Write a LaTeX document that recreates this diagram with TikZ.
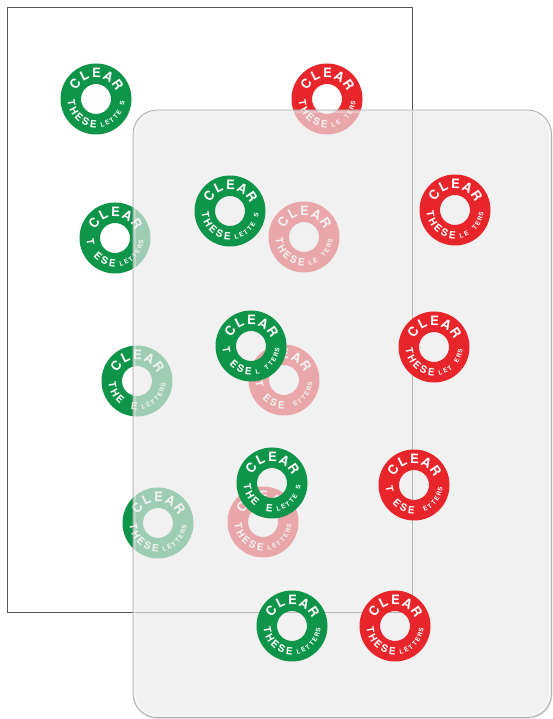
\documentclass[tikz,border=0pt]{standalone}
\usepackage{fontspec}
\setmainfont{TeX Gyre Heros}
\definecolor{dgreen}{HTML}{0F9549}
\definecolor{dred}{HTML}{E8252B}
\definecolor{papline}{HTML}{555555}
\definecolor{sheetfill}{HTML}{EBEBEB}
\definecolor{sheetline}{HTML}{B0B0B0}
\tikzset{
  topl/.style={text=white, inner sep=0pt, font=\fontsize{13}{13}\selectfont\bfseries},
  bigl/.style={text=white, inner sep=0pt, font=\fontsize{10}{10}\selectfont\bfseries},
  smalll/.style={text=white, inner sep=0pt, font=\fontsize{6.3}{6.3}\selectfont\bfseries},
}
% #1 name, #2 x, #3 y, #4 colour, #5 big bottom letters, #6 small bottom letters
\newcommand{\cdisc}[6]{%
  \begin{scope}[shift={(#2,#3)}]
    \fill[#4, even odd rule] (0,0) circle (35.5) (0,0) circle (15);
    \foreach \l [count=\i] in {C,L,E,A,R}
      \node[topl, rotate={144-27.5*(\i-1)-90}] (#1c\i) at ({144-27.5*(\i-1)}:26) {\l};
    \foreach \l [count=\i] in {#5}
      \node[bigl, rotate={190+18.5*(\i-1)+90}] (#1b\i) at ({190+18.5*(\i-1)}:25) {\l};
    \foreach \l [count=\i] in {#6}
      \node[smalll, rotate={284+11.3*(\i-1)+90}] (#1s\i) at ({284+11.3*(\i-1)}:26.5) {\l};
  \end{scope}}
\begin{document}
\begin{tikzpicture}[x=1pt,y=1pt]
  \useasboundingbox (0,0) rectangle (553,719);
  \fill[white] (0,0) rectangle (553,719);
  % paper
  \draw[papline, line width=0.9pt, fill=white] (7,712) rectangle (412,107);
  % discs printed on the paper
  \cdisc{ga}{96}{620}{dgreen}{T,H,E,S,E}{L,E,T,T,E,{},S}
  \cdisc{ra}{327}{620}{dred}{T,H,E,S,E}{L,E,{},T,E,R,S}
  \cdisc{gb}{115}{481}{dgreen}{T,{},E,S,E}{L,E,T,T,E,R,S}
  \cdisc{gc}{137}{338}{dgreen}{T,H,E,{},E}{L,E,T,T,E,R,S}
  \cdisc{gd}{158}{196}{dgreen}{T,H,E,S,E}{L,E,T,T,E,R,S}
  \cdisc{pa}{304}{482}{dred}{T,H,E,S,E}{L,E,{},T,E,R,S}
  \cdisc{pb}{284}{339}{dred}{T,{},E,S,E}{{},E,T,T,E,R,S}
  \cdisc{pc}{263}{197}{dred}{T,H,E,S,E}{L,E,T,T,E,R,S}
  % sheet shadow (edges only)
  \foreach \k/\o in {1/0.10,2/0.06,3/0.03}
    \draw[black, opacity=\o, line width=0.9pt, rounded corners=24pt] (133+\k*0.3,609-\k*0.9) rectangle (551.5+\k*0.2,1.5-\k*0.5);
  % transparent sheet
  \fill[sheetfill, fill opacity=0.66, rounded corners=24pt] (133,609) rectangle (551.5,1.5);
  \draw[sheetline, line width=0.8pt, rounded corners=24pt] (133,609) rectangle (551.5,1.5);
  \draw[white, opacity=0.8, line width=0.8pt, rounded corners=22pt] (135,607) rectangle (549.5,3.5);
  % discs printed on the sheet
  \cdisc{ge}{230}{508}{dgreen}{T,H,E,S,E}{L,E,T,T,E,{},S}
  \cdisc{rb}{455}{509}{dred}{T,H,E,S,E}{L,E,{},T,E,R,S}
  \cdisc{gf}{251}{373}{dgreen}{T,{},E,S,E}{L,{},T,T,E,R,S}
  \cdisc{rc}{434}{372}{dred}{T,H,E,S,E}{L,E,T,{},E,R,S}
  \cdisc{gg}{272}{236}{dgreen}{T,H,E,{},E}{L,E,T,T,E,{},S}
  \cdisc{rd}{414}{234}{dred}{T,{},E,S,E}{{},E,T,T,E,R,S}
  \cdisc{gh}{292}{93}{dgreen}{T,H,E,S,E}{L,E,T,T,E,R,S}
  \cdisc{re}{395}{93}{dred}{T,H,E,S,E}{L,E,T,T,E,R,S}
\end{tikzpicture}
\end{document}
